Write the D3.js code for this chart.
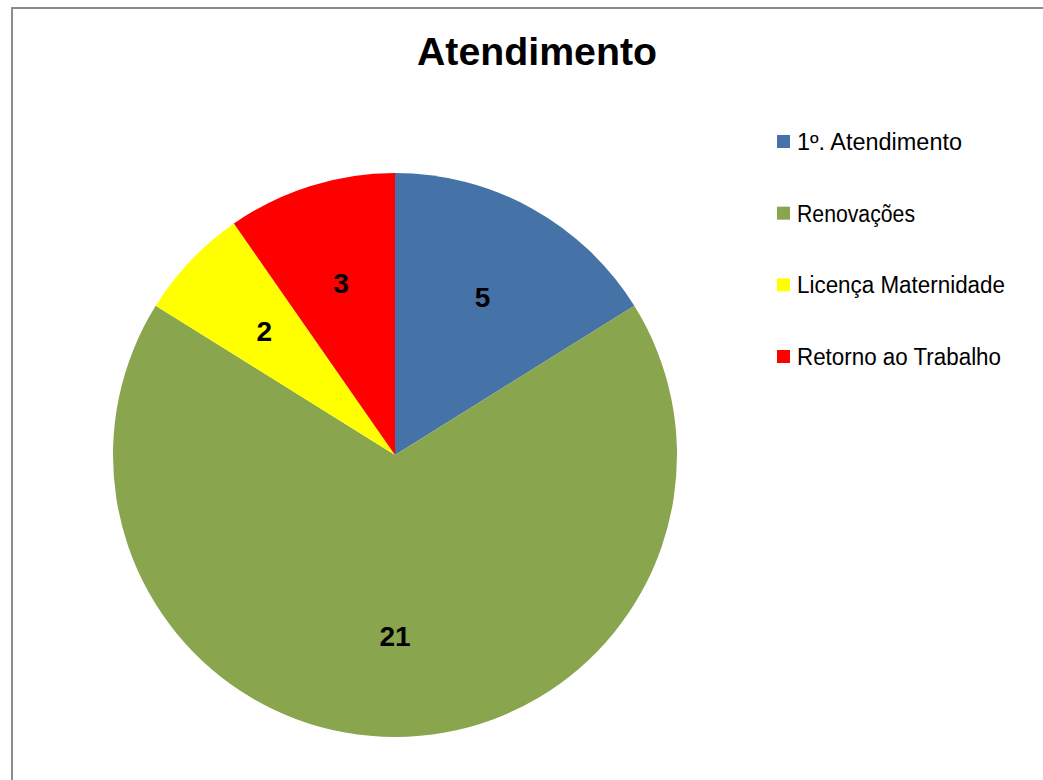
<!DOCTYPE html>
<html>
<head>
<meta charset="utf-8">
<script src="https://cdn.jsdelivr.net/npm/d3@7"></script>
<style>
  body { margin: 0; background: #fff; }
  svg { display: block; }
</style>
</head>
<body>
<div id="chart"></div>
<script>
// data
const categories = ['1º. Atendimento', 'Renovações', 'Licença Maternidade', 'Retorno ao Trabalho']
const values = [5, 21, 2, 3]
const colors = ['#4572A7', '#89A54E', '#FFFF00', '#FF0000']

const width = 1043, height = 780
const cx = 395, cy = 455, radius = 282

const svg = d3.select('#chart').append('svg')
    .attr('width', width)
    .attr('height', height)

// outer chart frame (cut off at right/bottom like the reference)
svg.append('rect')
    .attr('x', 12).attr('y', 8)
    .attr('width', width + 20).attr('height', height + 20)
    .attr('fill', '#fff')
    .attr('stroke', '#8c8c8c')
    .attr('stroke-width', 2)

svg.append('text')
    .attr('x', 537).attr('y', 65)
    .attr('text-anchor', 'middle')
    .style('font-family', '"Liberation Sans", Arial, sans-serif')
    .style('font-weight', 'bold')
    .style('font-size', '39px')
    .attr('textLength', 240)
    .attr('lengthAdjust', 'spacingAndGlyphs')
    .text('Atendimento')

const color = d3.scaleOrdinal().domain(categories).range(colors)

const pie = d3.pie().sort(null).value(d => d.value)
const arcs = pie(categories.map((c, i) => ({ name: c, value: values[i] })))

const arc = d3.arc().innerRadius(0).outerRadius(radius)
const labelArc = d3.arc().innerRadius(radius * 0.64).outerRadius(radius * 0.64)

const g = svg.append('g').attr('transform', `translate(${cx}, ${cy})`)

g.selectAll('path.slice')
    .data(arcs)
    .join('path')
    .attr('class', 'slice')
    .attr('d', arc)
    .attr('fill', d => color(d.data.name))

g.selectAll('text.lbl')
    .data(arcs)
    .join('text')
    .attr('class', 'lbl')
    .attr('transform', d => `translate(${labelArc.centroid(d)})`)
    .attr('text-anchor', 'middle')
    .attr('dy', '0.36em')
    .style('font-family', '"Liberation Sans", Arial, sans-serif')
    .style('font-weight', 'bold')
    .style('font-size', '28px')
    .text(d => d.data.value)

// legend
const legendWidths = [165, 118, 208, 204]
const legendY = d3.scalePoint().domain(categories).range([142, 357])

const legend = svg.append('g')
const item = legend.selectAll('g.item')
    .data(categories)
    .join('g')
    .attr('class', 'item')
    .attr('transform', d => `translate(777, ${legendY(d)})`)

item.append('rect')
    .attr('x', 0).attr('y', -7)
    .attr('width', 13).attr('height', 13)
    .attr('fill', d => color(d))

item.append('text')
    .attr('x', 20).attr('y', 8)
    .style('font-family', '"Liberation Sans", Arial, sans-serif')
    .style('font-size', '23px')
    .attr('textLength', (d, i) => legendWidths[i])
    .attr('lengthAdjust', 'spacingAndGlyphs')
    .text(d => d)
</script>
</body>
</html>
